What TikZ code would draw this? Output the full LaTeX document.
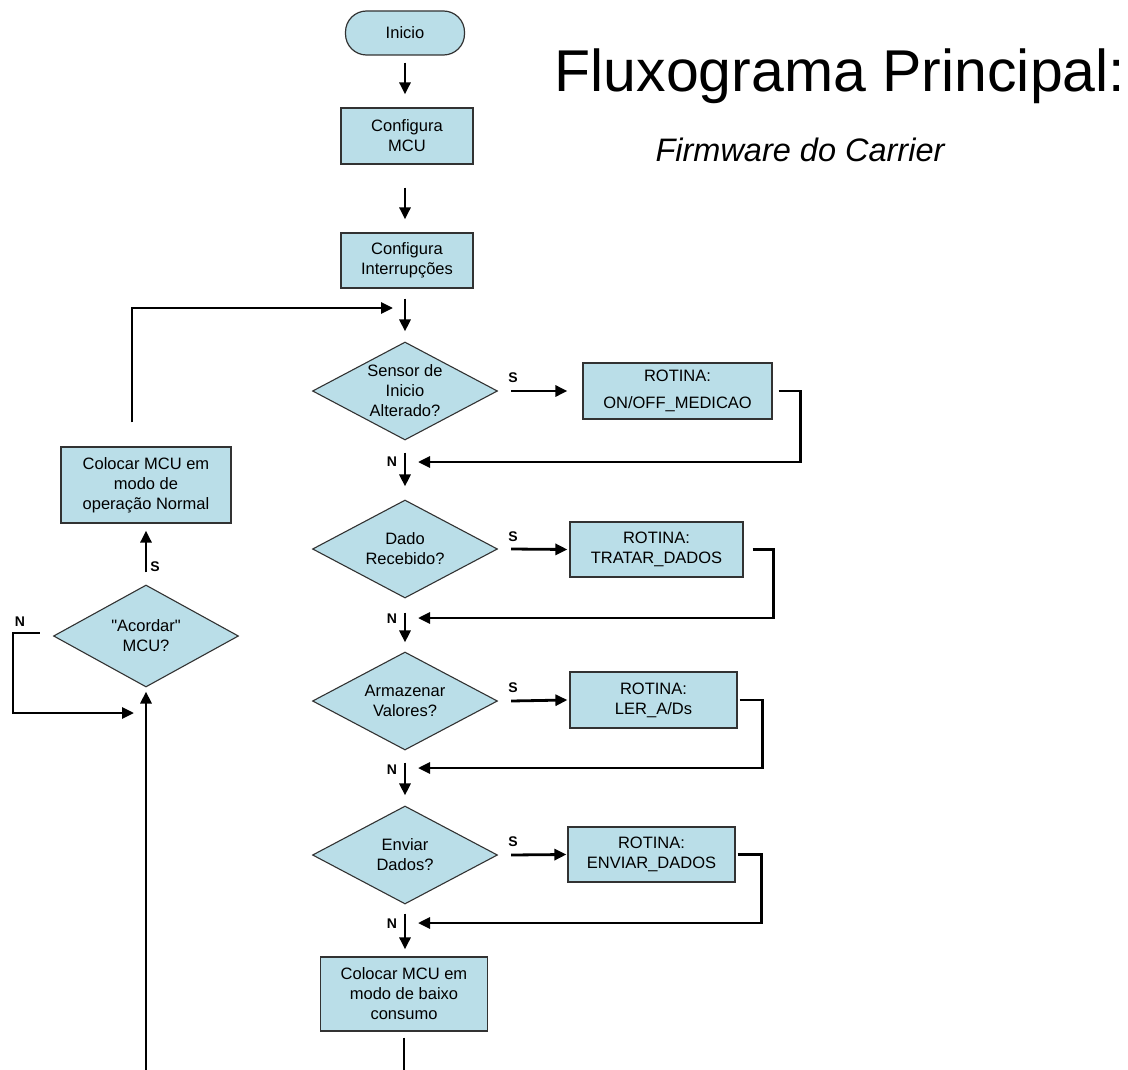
\documentclass[tikz,border=0pt]{standalone}
\usepackage{fontspec}
\setmainfont{Liberation Sans}[Ligatures=TeXOff]
\usetikzlibrary{shapes.geometric,arrows.meta}

\definecolor{boxfill}{RGB}{186,222,232}
\definecolor{boxline}{RGB}{50,50,50}

\tikzset{
  x=1pt, y=-1pt,
  flow/.style={line width=2.8pt, -{Triangle[length=12pt,width=11pt]}},
  plain/.style={line width=2.8pt},
  boxtext/.style={font=\fontsize{16.5}{20}\selectfont, align=center},
  procbox/.style={boxtext, rectangle, draw=boxline, line width=1.2pt, fill=boxfill, inner sep=0pt},
  decision/.style={boxtext, diamond, draw=boxline, line width=1.1pt, fill=boxfill,
    inner sep=0pt, aspect=1.9, minimum width=185pt, minimum height=98pt},
  terminal/.style={boxtext, rectangle, rounded corners=21pt, draw=boxline, line width=1.2pt,
    fill=boxfill, minimum width=119pt, minimum height=44pt, inner sep=0pt},
  tag/.style={font=\fontsize{14}{14}\bfseries\selectfont, inner sep=0pt}
}

\begin{document}
\begin{tikzpicture}
\useasboundingbox[fill=white] (0,0) rectangle (1128,1070);

% titles
\node[anchor=base, font=\fontsize{59}{59}\selectfont] (title) at (840,92) {Fluxograma Principal:};
\node[anchor=base, font=\fontsize{32.5}{34}\itshape] (subtitle) at (800,162) {Firmware do Carrier};

% main column
\node[terminal] (inicio) at (405,33) {Inicio};
\node[procbox, minimum width=132pt, minimum height=56pt] (cfgmcu) at (407,136) {Configura\\MCU};
\node[procbox, minimum width=132pt, minimum height=55pt] (cfgint) at (407,260.5) {Configura\\Interrupções};

\node[decision] (d1) at (405,391) {Sensor de\\Inicio\\Alterado?};
\node[procbox, minimum width=189pt, minimum height=56pt, font=\fontsize{16.5}{27}\selectfont] (r1) at (677.5,391) {ROTINA:\\ON/OFF\_MEDICAO};

\node[decision] (d2) at (405,549) {Dado\\Recebido?};
\node[procbox, minimum width=173pt, minimum height=55pt] (r2) at (656.5,549.5) {ROTINA:\\TRATAR\_DADOS};

\node[decision] (d3) at (405,701) {Armazenar\\Valores?};
\node[procbox, minimum width=167pt, minimum height=56pt] (r3) at (653.5,700) {ROTINA:\\LER\_A/Ds};

\node[decision] (d4) at (405,855) {Enviar\\Dados?};
\node[procbox, minimum width=167pt, minimum height=55pt] (r4) at (651.5,854.5) {ROTINA:\\ENVIAR\_DADOS};

\node[procbox, minimum width=167pt, minimum height=74pt] (baixo) at (404,994) {Colocar MCU em\\modo de baixo\\consumo};

% left column
\node[procbox, minimum width=170pt, minimum height=76pt] (normal) at (146,485) {Colocar MCU em\\modo de\\operação Normal};
\node[decision, minimum width=185pt, minimum height=102pt] (acordar) at (146,636) {"Acordar"\\MCU?};

% junction points on the lines
\coordinate (loopin) at (405,308);
\coordinate (j1) at (405,462);
\coordinate (j2) at (405,618);
\coordinate (j3) at (405,768);
\coordinate (j4) at (405,923);
\coordinate (wake) at (146,713);
\coordinate (exitdown) at (404,1070);
\coordinate (entryup) at (146,1070);

% main flow
\draw[flow] ([yshift=-7pt]inicio.south) -- ([yshift=13pt]inicio.south |- cfgmcu.north);
\draw[flow] ([yshift=-23pt]inicio.south |- cfgmcu.south) -- ([yshift=13pt]inicio.south |- cfgint.north);
\draw[flow] ([yshift=-10pt]inicio.south |- cfgint.south) -- ([yshift=10pt]d1.north);
\draw[flow] ([yshift=-12pt]d1.south) -- ([yshift=13pt]d2.north);
\draw[flow] ([yshift=-14pt]d2.south) -- ([yshift=9pt]d3.north);
\draw[flow] ([yshift=-12pt]d3.south) -- ([yshift=10pt]d4.north);
\draw[flow] ([yshift=-9pt]d4.south) -- ([yshift=7pt]d4.south |- baixo.north);
\draw[plain] ([yshift=-6pt]baixo.south) -- (exitdown);

% yes branches
\draw[flow] ([xshift=13pt]d1.east) -- ([xshift=-15pt]r1.west);
\draw[flow] ([xshift=13pt]d2.east) -- ([xshift=-2pt]r2.west);
\draw[flow] ([xshift=13pt]d3.east) -- ([xshift=-2pt]r3.west);
\draw[flow] ([xshift=13pt]d4.east) -- ([xshift=-1pt]r4.west);

% returns from the routines
\draw[flow] ([xshift=6pt]r1.east) -- ++(22,0) |- ([xshift=13pt]j1);
\draw[flow] ([xshift=9pt]r2.east) -- ++(21,0) |- ([xshift=13pt]j2);
\draw[flow] ([xshift=2pt]r3.east) -- ++(23,0) |- ([xshift=13pt]j3);
\draw[flow] ([xshift=2pt]r4.east) -- ++(24,0) |- ([xshift=13pt]j4);

% wake-up loop
\draw[flow] (entryup) -- ([yshift=-4pt]acordar.south);
\draw[flow] ([yshift=12pt]acordar.north) -- ([yshift=-7pt]normal.south);
\draw[flow] ([xshift=-14pt,yshift=24pt]normal.north) |- ([xshift=-12pt]loopin);
\draw[flow] ([xshift=-13pt,yshift=3pt]acordar.west) -- ++(-27,0) |- ([xshift=-12pt]wake);

% S / N tags
\node[tag] (s1) at (513,378) {S};
\node[tag] (s2) at (513,537) {S};
\node[tag] (s3) at (513,688) {S};
\node[tag] (s4) at (513,842) {S};
\node[tag] (n1) at (392,462) {N};
\node[tag] (n2) at (392,619) {N};
\node[tag] (n3) at (392,770) {N};
\node[tag] (n4) at (392,924) {N};
\node[tag] (sw) at (155,567) {S};
\node[tag] (nw) at (20,622) {N};
\end{tikzpicture}
\end{document}
